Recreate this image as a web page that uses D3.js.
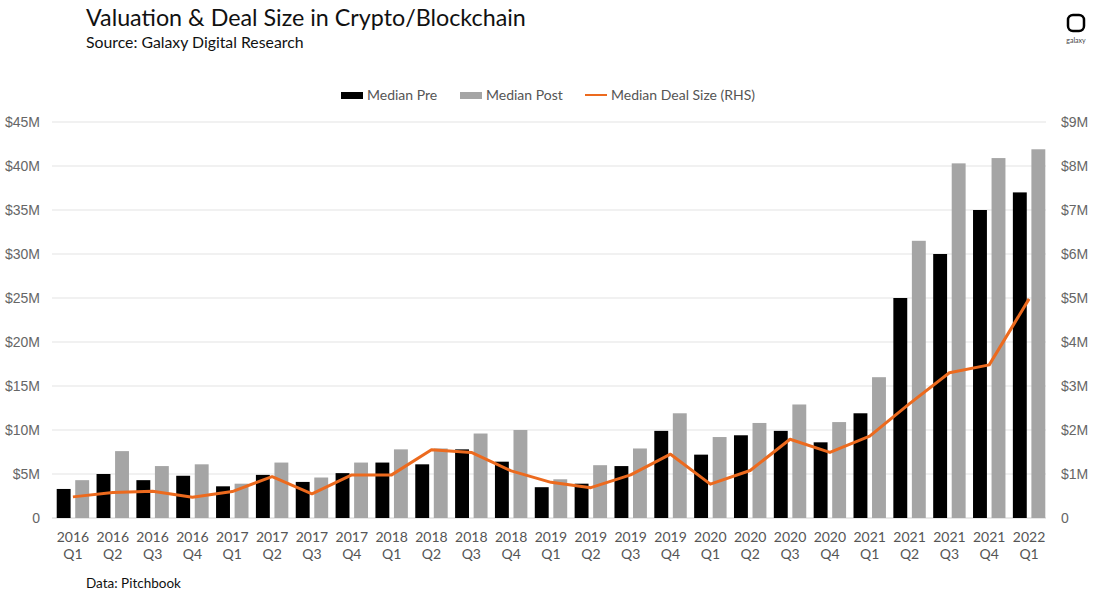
<!DOCTYPE html>
<html>
<head>
<meta charset="utf-8">
<script src="https://cdn.jsdelivr.net/npm/d3@7"></script>
<style>
  body { margin: 0; background: #fff; }
  text { font-family: Lato, "Open Sans", sans-serif; }
</style>
</head>
<body>
<svg id="chart" width="1100" height="597"></svg>
<script>
// DATA
const quarters = [
  "2016 Q1", "2016 Q2", "2016 Q3", "2016 Q4",
  "2017 Q1", "2017 Q2", "2017 Q3", "2017 Q4",
  "2018 Q1", "2018 Q2", "2018 Q3", "2018 Q4",
  "2019 Q1", "2019 Q2", "2019 Q3", "2019 Q4",
  "2020 Q1", "2020 Q2", "2020 Q3", "2020 Q4",
  "2021 Q1", "2021 Q2", "2021 Q3", "2021 Q4",
  "2022 Q1"
];
const medianPre = [3.3, 5.0, 4.3, 4.8, 3.6, 4.9, 4.1, 5.1, 6.3, 6.1, 7.8, 6.4,
  3.5, 3.9, 5.9, 9.9, 7.2, 9.4, 9.9, 8.6, 11.9, 25.0, 30.0, 35.0, 37.0];
const medianPost = [4.3, 7.6, 5.9, 6.1, 3.9, 6.3, 4.6, 6.3, 7.8, 7.9, 9.6, 10.0,
  4.4, 6.0, 7.9, 11.9, 9.2, 10.8, 12.9, 10.9, 16.0, 31.5, 40.3, 40.9, 41.9];
const medianDeal = [0.48, 0.58, 0.61, 0.47, 0.6, 0.94, 0.55, 0.98, 0.98, 1.55, 1.49, 1.07,
  0.81, 0.69, 0.98, 1.45, 0.77, 1.08, 1.79, 1.49, 1.86, 2.6, 3.3, 3.48, 4.98];
const leftTicks = [0, 5, 10, 15, 20, 25, 30, 35, 40, 45];
const rightTicks = [0, 1, 2, 3, 4, 5, 6, 7, 8, 9];

const svg = d3.select("#chart");

// scales
const x0 = d3.scaleBand().domain(quarters).range([53, 1049]).padding(0);
const x1 = d3.scaleBand().domain(["pre", "post"]).range([0, x0.bandwidth()])
  .paddingInner(0.25).paddingOuter(0.2);
const yL = d3.scaleLinear().domain([0, 45]).range([518, 122]);
const yR = d3.scaleLinear().domain([0, 9]).range([518, 122]);

// title
svg.append("text").attr("x", 86).attr("y", 26)
  .style("font-size", "23.3px").style("fill", "#111")
  .text("Valuation & Deal Size in Crypto/Blockchain");
svg.append("text").attr("x", 86).attr("y", 48)
  .style("font-size", "15.8px").style("fill", "#111").text("Source: Galaxy Digital Research");

// logo
const logo = svg.append("g").attr("transform", "translate(1076,24)");
logo.append("rect").attr("x", -8).attr("y", -9).attr("width", 16).attr("height", 16)
  .attr("rx", 5).attr("fill", "none").attr("stroke", "#000").attr("stroke-width", 2.5);
logo.append("text").attr("x", 0).attr("y", 19).attr("text-anchor", "middle")
  .style("font-size", "7px").style("fill", "#444").text("galaxy");

// gridlines
svg.append("g").selectAll("line").data(leftTicks).join("line")
  .attr("x1", 52).attr("x2", 1046)
  .attr("y1", d => yL(d)).attr("y2", d => yL(d))
  .attr("stroke", d => d === 0 ? "#d0d0d0" : "#e3e3e3").attr("stroke-width", 1);

// left axis
const axL = svg.append("g").attr("transform", "translate(40,0)")
  .call(d3.axisLeft(yL).tickValues(leftTicks).tickSize(0).tickPadding(0)
    .tickFormat(d => d === 0 ? "0" : "$" + d + "M"));
axL.select(".domain").remove();
axL.selectAll("text").style("font-family", "'Liberation Sans', Arial, sans-serif")
  .style("font-size", "14px").style("fill", "#666");

// right axis
const axR = svg.append("g").attr("transform", "translate(1061,0)")
  .call(d3.axisRight(yR).tickValues(rightTicks).tickSize(0).tickPadding(0)
    .tickFormat(d => d === 0 ? "0" : "$" + d + "M"));
axR.select(".domain").remove();
axR.selectAll("text").style("font-family", "'Liberation Sans', Arial, sans-serif")
  .style("font-size", "14px").style("fill", "#666");

// bars
const groups = svg.append("g").selectAll("g").data(quarters).join("g")
  .attr("transform", d => `translate(${x0(d)},0)`);
groups.append("rect")
  .attr("x", x1("pre")).attr("width", x1.bandwidth())
  .attr("y", (d, i) => yL(medianPre[i])).attr("height", (d, i) => yL(0) - yL(medianPre[i]))
  .attr("fill", "#000");
groups.append("rect")
  .attr("x", x1("post")).attr("width", x1.bandwidth())
  .attr("y", (d, i) => yL(medianPost[i])).attr("height", (d, i) => yL(0) - yL(medianPost[i]))
  .attr("fill", "#a5a5a5");

// line
const line = d3.line()
  .x((d, i) => x0(quarters[i]) + x0.bandwidth() / 2)
  .y(d => yR(d));
svg.append("path").datum(medianDeal)
  .attr("d", line).attr("fill", "none")
  .attr("stroke", "#ec6a1e").attr("stroke-width", 3).attr("stroke-linejoin", "round");

// x labels
const xl = svg.append("g").selectAll("text").data(quarters).join("text")
  .attr("x", d => x0(d) + x0.bandwidth() / 2)
  .attr("text-anchor", "middle")
  .style("font-size", "14px").style("fill", "#555");
xl.append("tspan").attr("x", d => x0(d) + x0.bandwidth() / 2).attr("y", 542).text(d => d.split(" ")[0]);
xl.append("tspan").attr("x", d => x0(d) + x0.bandwidth() / 2).attr("y", 559).text(d => d.split(" ")[1]);

// legend
const legend = svg.append("g").attr("transform", "translate(0,95)");
const legItems = [
  { label: "Median Pre", x: 341, type: "rect", color: "#000" },
  { label: "Median Post", x: 460, type: "rect", color: "#a5a5a5" },
  { label: "Median Deal Size (RHS)", x: 585, type: "line", color: "#ec6a1e" }
];
legItems.forEach(it => {
  if (it.type === "rect") {
    legend.append("rect").attr("x", it.x).attr("y", -3).attr("width", 22).attr("height", 7).attr("fill", it.color);
  } else {
    legend.append("line").attr("x1", it.x).attr("x2", it.x + 22).attr("y1", 0).attr("y2", 0)
      .attr("stroke", it.color).attr("stroke-width", 2);
  }
  legend.append("text").attr("x", it.x + 26).attr("y", 5)
    .style("font-size", "14px").style("fill", "#555").text(it.label);
});

// footer
svg.append("text").attr("x", 86).attr("y", 588)
  .style("font-size", "13.5px").style("fill", "#111").text("Data: Pitchbook");
</script>
</body>
</html>
